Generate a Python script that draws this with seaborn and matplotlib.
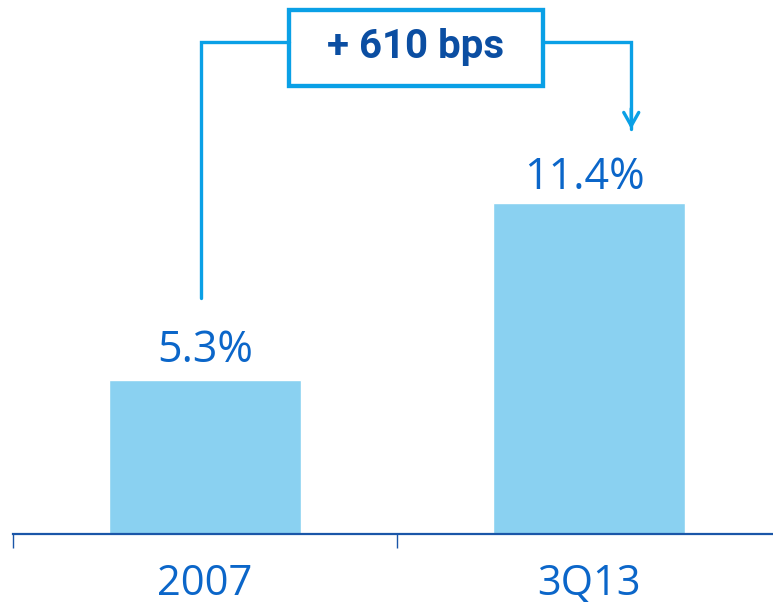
import matplotlib
matplotlib.use("Agg")
import matplotlib.pyplot as plt
import seaborn as sns
import pandas as pd

categories = ["2007", "3Q13"]
values = [5.3, 11.4]
value_labels = ["5.3%", "11.4%"]
change_label = "+ 610 bps"

BAR = "#8ad1f1"
TEXT = "#0b66c9"
AXIS = "#1a56a8"
BRACKET = "#0aa0e6"
BOX_TEXT = "#0b4ea2"

sns.set_theme(style="white")
plt.rcParams["font.family"] = ["Open Sans", "DejaVu Sans"]

df = pd.DataFrame({"period": categories, "ratio": values})

fig = plt.figure(figsize=(7.73, 6.05), dpi=100)
ax = fig.add_axes([13 / 773, 71 / 605, 768 / 773, 534 / 605])

sns.barplot(data=df, x="period", y="ratio", color=BAR, width=0.5,
            saturation=1, ax=ax)

ax.set_xlim(-0.5, 1.5)
ax.set_ylim(0, 534 / 29.05)
ax.set_xlabel("")
ax.set_ylabel("")
ax.set_yticks([])
for s in ["top", "right", "left"]:
    ax.spines[s].set_visible(False)
ax.spines["bottom"].set_color(AXIS)
ax.spines["bottom"].set_linewidth(1.6)

# category labels on major ticks, boundary marks on minor ticks
ax.set_xticks([0, 1])
ax.set_xticklabels(categories)
ax.set_xticks([-0.5, 0.5, 1.5], minor=True)
ax.tick_params(axis="x", which="major", length=0, pad=21,
               labelsize=30, labelcolor=TEXT)
ax.tick_params(axis="x", which="minor", length=10, width=1.0,
               color=AXIS, direction="out", bottom=True)

# value labels above bars
label_offsets = [(0, 13), (-3, 10)]
for i, (v, lab) in enumerate(zip(values, value_labels)):
    ax.annotate(lab, (i, v), xytext=label_offsets[i],
                textcoords="offset points", ha="center", va="baseline",
                fontsize=31, color=TEXT)

# change bracket with box and arrow
x_left, x_right = -0.01, 1.11
y_start, y_top, y_tip = 8.12, 16.94, 13.84
box_l, box_r = 0.219, 0.880
box_b, box_t = 15.42, 18.04
lw = 2.4
ax.plot([x_left, x_left, box_l], [y_start, y_top, y_top], color=BRACKET,
        lw=lw, clip_on=False, solid_joinstyle="miter")
ax.plot([box_r, x_right, x_right], [y_top, y_top, y_tip + 0.1], color=BRACKET,
        lw=lw, clip_on=False, solid_joinstyle="miter")
ax.annotate("", xy=(x_right, y_tip), xytext=(x_right, y_tip + 0.9),
            arrowprops=dict(arrowstyle="->,head_length=0.8,head_width=0.45",
                            color=BRACKET, lw=lw), annotation_clip=False)
ax.add_patch(plt.Rectangle((box_l, box_b), box_r - box_l, box_t - box_b,
                           fill=False, edgecolor=BRACKET, lw=lw * 1.3,
                           clip_on=False))
ax.text((box_l + box_r) / 2, (box_b + box_t) / 2 + 0.05, change_label,
        ha="center", va="center", fontsize=29, fontweight="bold",
        color=BOX_TEXT, family=["Roboto", "DejaVu Sans"])

fig.savefig("out.png", dpi=100)
